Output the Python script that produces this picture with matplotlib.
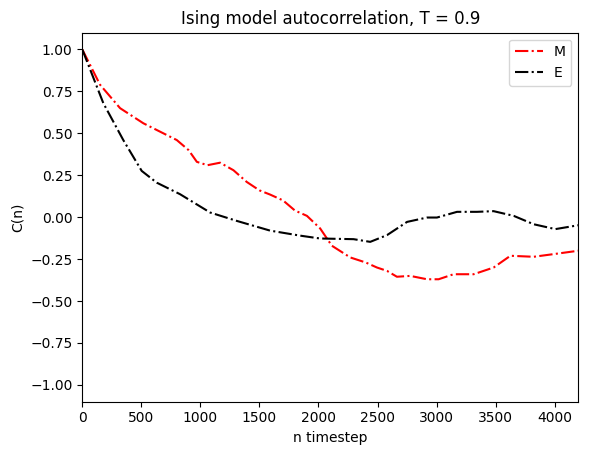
import numpy as np
import matplotlib
matplotlib.use('Agg')
import matplotlib.pyplot as plt

# values
n_M = [0, 150, 320, 517, 630, 800, 900, 970, 1060, 1167, 1280, 1393, 1500, 1590, 1700,
       1800, 1902, 2014, 2113, 2269, 2400, 2495, 2580, 2664, 2777, 2919, 3017, 3144,
       3314, 3483, 3625, 3822, 3992, 4200]
C_M = [1.00, 0.79, 0.65, 0.56, 0.52, 0.46, 0.40, 0.33, 0.31, 0.325, 0.28, 0.21, 0.16,
       0.135, 0.10, 0.04, 0.008, -0.067, -0.17, -0.24, -0.27, -0.30, -0.32, -0.355,
       -0.35, -0.37, -0.37, -0.34, -0.34, -0.30, -0.23, -0.236, -0.22, -0.20]

n_E = [0, 178, 347, 503, 630, 828, 1082, 1308, 1590, 1845, 2014, 2297, 2438, 2580,
       2750, 2919, 3003, 3173, 3342, 3483, 3653, 3822, 4006, 4200]
C_E = [1.00, 0.68, 0.46, 0.276, 0.206, 0.137, 0.028, -0.022, -0.08, -0.11, -0.127,
       -0.131, -0.147, -0.107, -0.028, -0.002, -0.002, 0.032, 0.032, 0.036, 0.008,
       -0.042, -0.071, -0.048]


def main():
    fig = plt.figure(figsize=(5.91, 4.55), dpi=100)
    ax = fig.add_subplot(111)
    fig.subplots_adjust(left=82.3/591, right=578.3/591, top=1-32.7/455, bottom=1-401.7/455)

    ax.plot(n_M, C_M, color='r', linestyle='-.', label='M')
    ax.plot(n_E, C_E, color='k', linestyle='-.', label='E')

    ax.set_xlim(0, 4200)
    ax.set_ylim(-1.1, 1.1)
    ax.set_title('Ising model autocorrelation, T = 0.9')
    ax.set_xlabel('n timestep')
    ax.set_ylabel('C(n)')
    ax.legend(loc='upper right')

    fig.savefig('out.png', dpi=100)


if __name__ == "__main__":
    main()
